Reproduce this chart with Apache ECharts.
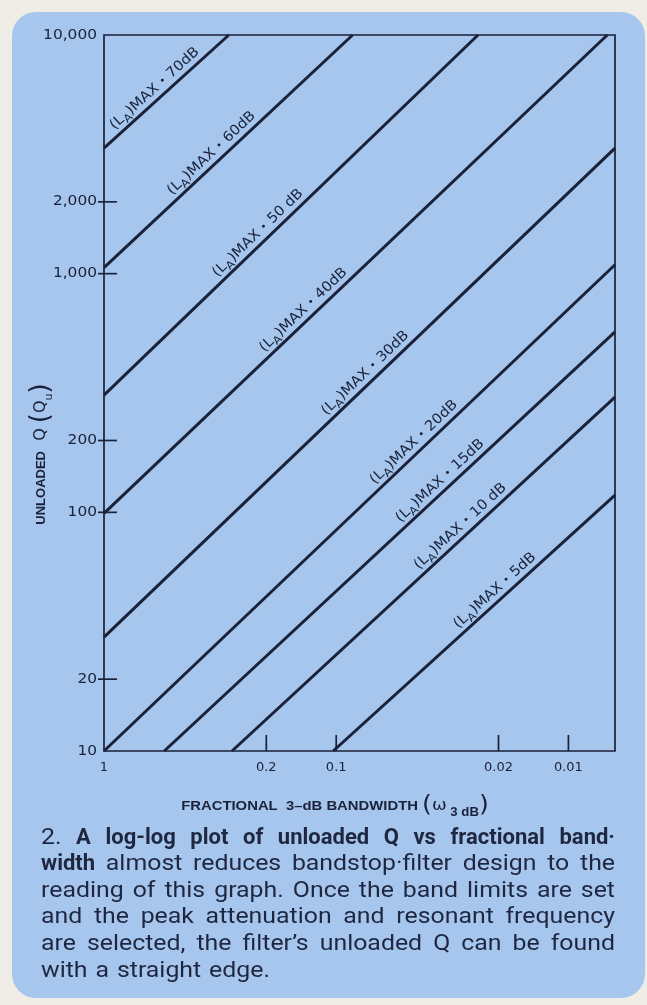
<!DOCTYPE html>
<html><head><meta charset="utf-8">
<script src="https://cdn.jsdelivr.net/npm/echarts@6/dist/echarts.min.js"></script>
<style>html,body{margin:0;padding:0;background:#efede6;}#c{width:647px;height:1005px;}</style>
</head><body><div id="c"></div>
<script>
// ---- data ----
const curveNames = ['70dB','60dB','50dB','40dB','30dB','20dB','15dB','10dB','5dB'];
const curveLabels = ['70dB','60dB','50 dB','40dB','30dB','20dB','15dB','10 dB','5dB'];
const curveBandwidth = [[1,0.29],[1,0.085],[1,0.0245],[1,0.0068],[1,0.0063],[1,0.0063],[0.55,0.0063],[0.281,0.0063],[0.103,0.0063]];
const curveQ = [[3360,10000],[1060,10000],[310,10000],[99,10000],[30,3360],[10,1090],[10,570],[10,304],[10,118]];
const xTickValues = [0.2,0.1,0.02,0.01];
const xLabelValues = [1,0.2,0.1,0.02,0.01];
const xLabelTexts = ['1','0.2','0.1','0.02','0.01'];
const yTickValues = [20,100,200,1000,2000];
const yLabelValues = [10,20,100,200,1000,2000,10000];
const yLabelTexts = ['10','20','100','200','1,000','2,000','10,000'];
const xAxisMin = 0.0063, xAxisMax = 1, yAxisMin = 10, yAxisMax = 10000;
// label placement along each curve (fraction of length)
const labelAlong = [0.46,0.46,0.43,0.41,0.525,0.62,0.627,0.614,0.598];

const INK = '#1a2138';
const PANEL = '#a6c6ed';
const chart = echarts.init(document.getElementById('c'));

const series = curveNames.map((n,i)=>({
  type:'line', name:n, symbol:'none', silent:true, clip:true,
  data: curveBandwidth[i].map((w,j)=>[w, curveQ[i][j]]),
  lineStyle:{color:INK, width:3}
}));

chart.setOption({
  backgroundColor:'#efede6',
  animation:false,
  grid:{left:104, top:35, right:32, bottom:254, show:true, borderColor:INK, borderWidth:1.7, backgroundColor:'transparent'},
  xAxis:{type:'log', logBase:10, min:xAxisMin, max:xAxisMax, inverse:true,
    axisLine:{show:false}, axisTick:{show:false}, axisLabel:{show:false}, splitLine:{show:false}},
  yAxis:{type:'log', logBase:10, min:yAxisMin, max:yAxisMax,
    axisLine:{show:false}, axisTick:{show:false}, axisLabel:{show:false}, splitLine:{show:false}},
  series
});

const P = (x,y)=>chart.convertToPixel({gridIndex:0},[x,y]);
const g = [];
g.push({type:'rect', z:-100, shape:{x:12,y:12,width:633,height:986,r:24}, style:{fill:PANEL}});

// ticks
yTickValues.forEach(v=>{const p=P(1,v); g.push({type:'line', z:50, shape:{x1:p[0]-6,y1:p[1],x2:p[0]+13,y2:p[1]}, style:{stroke:INK,lineWidth:1.7}});});
xTickValues.forEach(v=>{const p=P(v,yAxisMin); g.push({type:'line', z:50, shape:{x1:p[0],y1:p[1],x2:p[0],y2:p[1]-16}, style:{stroke:INK,lineWidth:1.7}});});
// tick labels
yLabelValues.forEach((v,i)=>{const p=P(1,v); g.push({type:'text', z:50, x:p[0]-7, y:p[1], scaleX:1.1,
  style:{text:yLabelTexts[i], fontSize:14, fontFamily:'DejaVu Sans', fill:INK, align:'right', verticalAlign:'middle'}});});
xLabelValues.forEach((v,i)=>{const p=P(v,yAxisMin); g.push({type:'text', z:50, x:p[0], y:p[1]+17,
  style:{text:xLabelTexts[i], fontSize:13, fontFamily:'DejaVu Sans', fill:INK, align:'center', verticalAlign:'middle'}});});

// curve labels
curveNames.forEach((n,i)=>{
  const a=P(curveBandwidth[i][0],curveQ[i][0]), b=P(curveBandwidth[i][1],curveQ[i][1]);
  const dx=b[0]-a[0], dy=b[1]-a[1], L=Math.hypot(dx,dy), ux=dx/L, uy=dy/L;
  const t=labelAlong[i];
  const cx=a[0]+dx*t + uy*10, cy=a[1]+dy*t - ux*10;
  g.push({type:'text', z:60, x:cx, y:cy, rotation:Math.atan2(-dy,dx), scaleX:1.06,
    style:{text:'{t|(L}{s|A}{t|)MAX }{e|•}{t| '+curveLabels[i]+'}', fill:INK, align:'center', verticalAlign:'middle',
      rich:{t:{fontSize:14, fontFamily:'DejaVu Sans', fill:INK, lineHeight:18},
            s:{fontSize:11, fontFamily:'DejaVu Sans', fill:INK, lineHeight:20, verticalAlign:'bottom'},
            e:{fontSize:10, fontFamily:'DejaVu Sans', fill:INK, lineHeight:18}}}});
});

// axis names
g.push({type:'text', z:60, x:41, y:454, rotation:Math.PI/2,
  style:{text:'{n|UNLOADED}{q|  Q }{p|(}{q|Q}{s|u}{p|)}', align:'center', verticalAlign:'middle', fill:INK,
    rich:{n:{fontSize:13, fontWeight:'bold', fontFamily:'Liberation Sans', fill:INK, lineHeight:24},
          q:{fontSize:16, fontFamily:'DejaVu Sans', fill:INK, lineHeight:24},
          p:{fontSize:26, fontFamily:'DejaVu Sans', fill:INK, lineHeight:24},
          s:{fontSize:11, fontFamily:'DejaVu Sans', fill:INK, lineHeight:28, verticalAlign:'bottom'}}}});
g.push({type:'text', z:60, x:335, y:806, scaleX:1.1,
  style:{text:'{n|FRACTIONAL  3–dB BANDWIDTH }{p|(}{w|ω}{s| 3 dB}{p|)}', align:'center', verticalAlign:'middle', fill:INK,
    rich:{n:{fontSize:13.5, fontWeight:'bold', fontFamily:'Liberation Sans', fill:INK, lineHeight:22},
          w:{fontSize:16, fontFamily:'DejaVu Sans', fill:INK, lineHeight:22},
          p:{fontSize:23, fontFamily:'DejaVu Sans', fill:INK, lineHeight:22},
          s:{fontSize:12, fontWeight:'bold', fontFamily:'Liberation Sans', fill:INK, lineHeight:26, verticalAlign:'bottom'}}}});

// caption (justified word by word)
const captionLines = [
  [['2.',0],['A',1],['log-log',1],['plot',1],['of',1],['unloaded',1],['Q',1],['vs',1],['fractional',1],['band·',1]],
  [['width',1],['almost',0],['reduces',0],['bandstop·filter',0],['design',0],['to',0],['the',0]],
  [['reading',0],['of',0],['this',0],['graph.',0],['Once',0],['the',0],['band',0],['limits',0],['are',0],['set',0]],
  [['and',0],['the',0],['peak',0],['attenuation',0],['and',0],['resonant',0],['frequency',0]],
  [['are',0],['selected,',0],['the',0],['filter’s',0],['unloaded',0],['Q',0],['can',0],['be',0],['found',0]],
  [['with',0],['a',0],['straight',0],['edge.',0]]
];
const cv=document.createElement('canvas').getContext('2d');
const FS=22, CAP_L=41, CAP_R=615, CAP_FONT='Roboto';
captionLines.forEach((line,li)=>{
  const words=line.map(([w,b])=>{
    const sx=b?1.0:1.13;
    const wt=b?'bold':'normal';
    cv.font=wt+' '+FS+'px '+CAP_FONT;
    return {w,b,sx,wt,width:cv.measureText(w).width*sx};
  });
  const total=words.reduce((s,o)=>s+o.width,0);
  const last=li===captionLines.length-1;
  const gap=last? FS*0.36 : (CAP_R-CAP_L-total)/(words.length-1);
  let x=CAP_L; const y=838+li*26.6;
  words.forEach(o=>{
    g.push({type:'text', z:60, x, y, scaleX:o.sx,
      style:{text:o.w, fontSize:FS, fontWeight:o.wt, fontFamily:CAP_FONT, fill:'#1f2740', align:'left', verticalAlign:'middle'}});
    x+=o.width+gap;
  });
});

chart.setOption({graphic:{elements:g}});
</script></body></html>
